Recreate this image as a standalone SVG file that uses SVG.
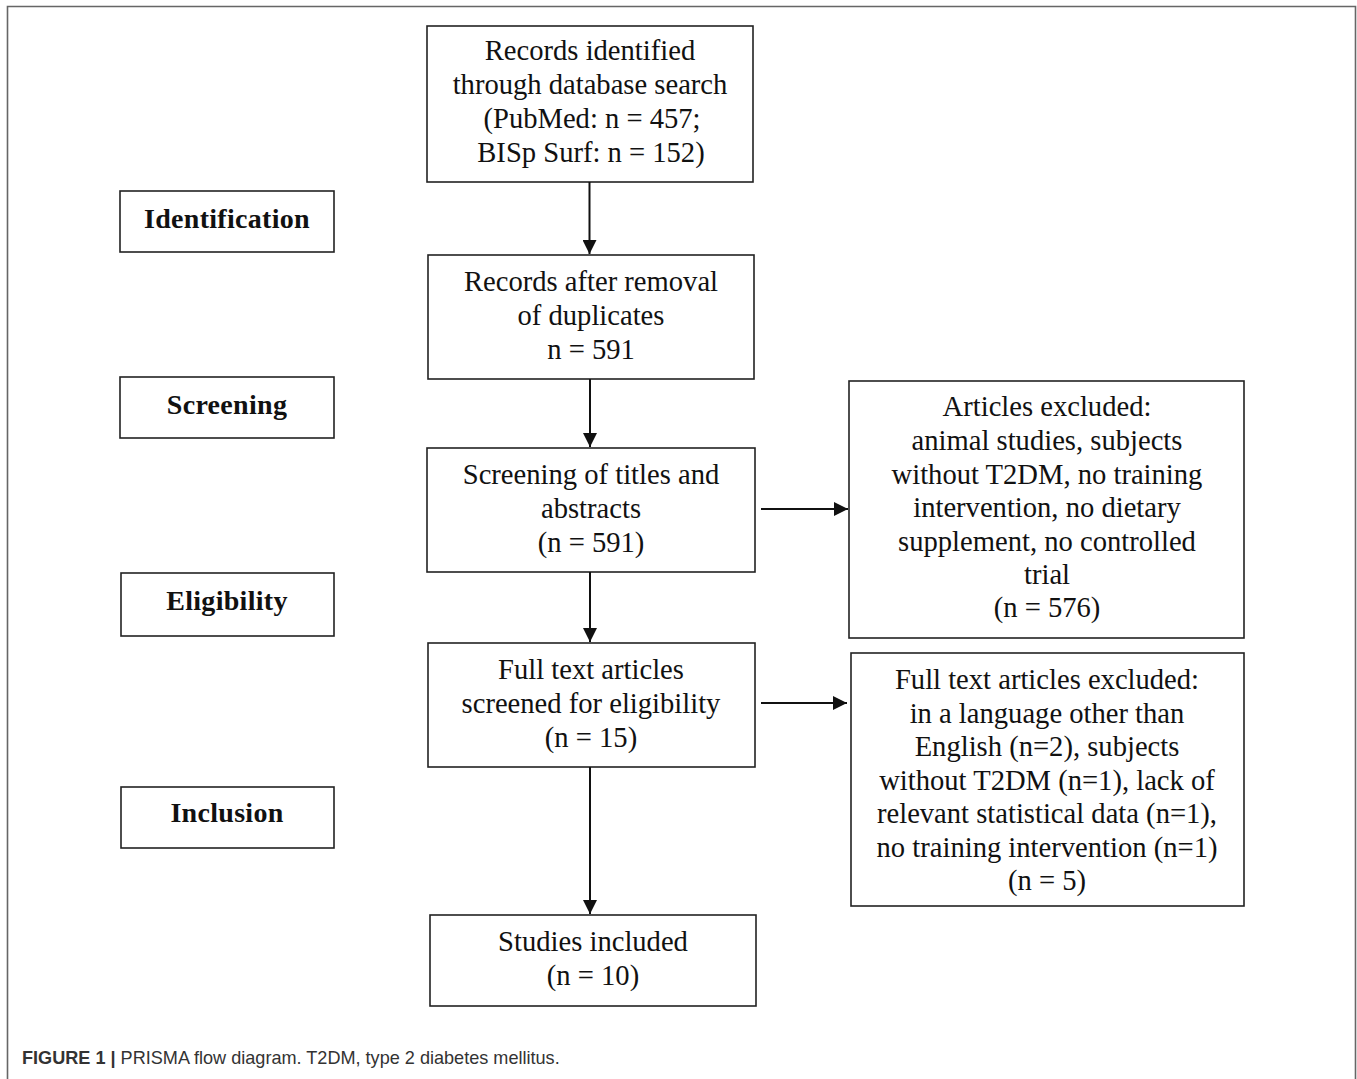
<svg xmlns="http://www.w3.org/2000/svg" width="1357" height="1079" viewBox="0 0 1357 1079">
<style>
.box{fill:#fff;stroke:#222;stroke-width:1.6}
.t{font-family:"Liberation Serif","Times New Roman",serif;font-size:28.6px;fill:#111;text-anchor:middle}
.b{font-family:"Liberation Serif","Times New Roman",serif;font-size:28px;font-weight:bold;letter-spacing:0.3px;fill:#111;text-anchor:middle}
.c{stroke:#111;stroke-width:2;fill:none}
.cap{font-family:"Liberation Sans",Arial,sans-serif;font-size:18.1px;fill:#333}
</style>
<defs>
<marker id="ah" viewBox="0 0 10 10" refX="10" refY="5" markerWidth="7" markerHeight="7" orient="auto" markerUnits="strokeWidth">
<path d="M0,0 L10,5 L0,10 z" fill="#111"/>
</marker>
</defs>
<rect width="1357" height="1079" fill="#fff"/>
<path d="M7.5,1079 V6.5 H1355.5 V1079" fill="none" stroke="#666" stroke-width="1.6"/>

<g id="identification"><rect class="box" x="120" y="191" width="214" height="61"/><text class="b" x="227" y="228">Identification</text></g>
<g id="screening"><rect class="box" x="120" y="377" width="214" height="61"/><text class="b" x="227" y="414">Screening</text></g>
<g id="eligibility"><rect class="box" x="121" y="573" width="213" height="63"/><text class="b" x="227" y="610">Eligibility</text></g>
<g id="inclusion"><rect class="box" x="121" y="787" width="213" height="61"/><text class="b" x="227" y="822">Inclusion</text></g>

<g id="records-identified"><rect class="box" x="427" y="26" width="326" height="156"/>
<text class="t" x="590" y="60">Records identified</text>
<text class="t" x="590" y="94">through database search</text>
<text class="t" x="592" y="128">(PubMed: n = 457;</text>
<text class="t" x="591" y="162">BISp Surf: n = 152)</text></g>

<g id="records-after"><rect class="box" x="428" y="255" width="326" height="124"/>
<text class="t" x="591" y="291">Records after removal</text>
<text class="t" x="591" y="325">of duplicates</text>
<text class="t" x="591" y="359">n = 591</text></g>

<g id="screening-titles"><rect class="box" x="427" y="448" width="328" height="124"/>
<text class="t" x="591" y="484">Screening of titles and</text>
<text class="t" x="591" y="518">abstracts</text>
<text class="t" x="591" y="552">(n = 591)</text></g>

<g id="full-text"><rect class="box" x="428" y="643" width="327" height="124"/>
<text class="t" x="591" y="679">Full text articles</text>
<text class="t" x="591" y="713">screened for eligibility</text>
<text class="t" x="591" y="747">(n = 15)</text></g>

<g id="studies-included"><rect class="box" x="430" y="915" width="326" height="91"/>
<text class="t" x="593" y="951">Studies included</text>
<text class="t" x="593" y="985">(n = 10)</text></g>

<g id="articles-excluded"><rect class="box" x="849" y="381" width="395" height="257"/>
<text class="t" x="1047" y="416">Articles excluded:</text>
<text class="t" x="1047" y="450">animal studies, subjects</text>
<text class="t" x="1047" y="484">without T2DM, no training</text>
<text class="t" x="1047" y="517">intervention, no dietary</text>
<text class="t" x="1047" y="551">supplement, no controlled</text>
<text class="t" x="1047" y="584">trial</text>
<text class="t" x="1047" y="617">(n = 576)</text></g>

<g id="full-text-excluded"><rect class="box" x="851" y="653" width="393" height="253"/>
<text class="t" x="1047" y="689">Full text articles excluded:</text>
<text class="t" x="1047" y="723">in a language other than</text>
<text class="t" x="1047" y="756">English (n=2), subjects</text>
<text class="t" x="1047" y="790">without T2DM (n=1), lack of</text>
<text class="t" x="1047" y="823">relevant statistical  data (n=1),</text>
<text class="t" x="1047" y="857">no training intervention (n=1)</text>
<text class="t" x="1047" y="890">(n = 5)</text></g>

<g id="connectors">
<line class="c" x1="589.5" y1="182" x2="589.5" y2="254" marker-end="url(#ah)"/>
<line class="c" x1="590" y1="379" x2="590" y2="447" marker-end="url(#ah)"/>
<line class="c" x1="590" y1="572" x2="590" y2="642" marker-end="url(#ah)"/>
<line class="c" x1="590" y1="767" x2="590" y2="914" marker-end="url(#ah)"/>
<line class="c" x1="761" y1="509" x2="848" y2="509" marker-end="url(#ah)"/>
<line class="c" x1="761" y1="703" x2="847" y2="703" marker-end="url(#ah)"/>
</g>

<text class="cap" x="22" y="1064"><tspan font-weight="bold">FIGURE 1 |</tspan> PRISMA flow diagram. T2DM, type 2 diabetes mellitus.</text>
</svg>
